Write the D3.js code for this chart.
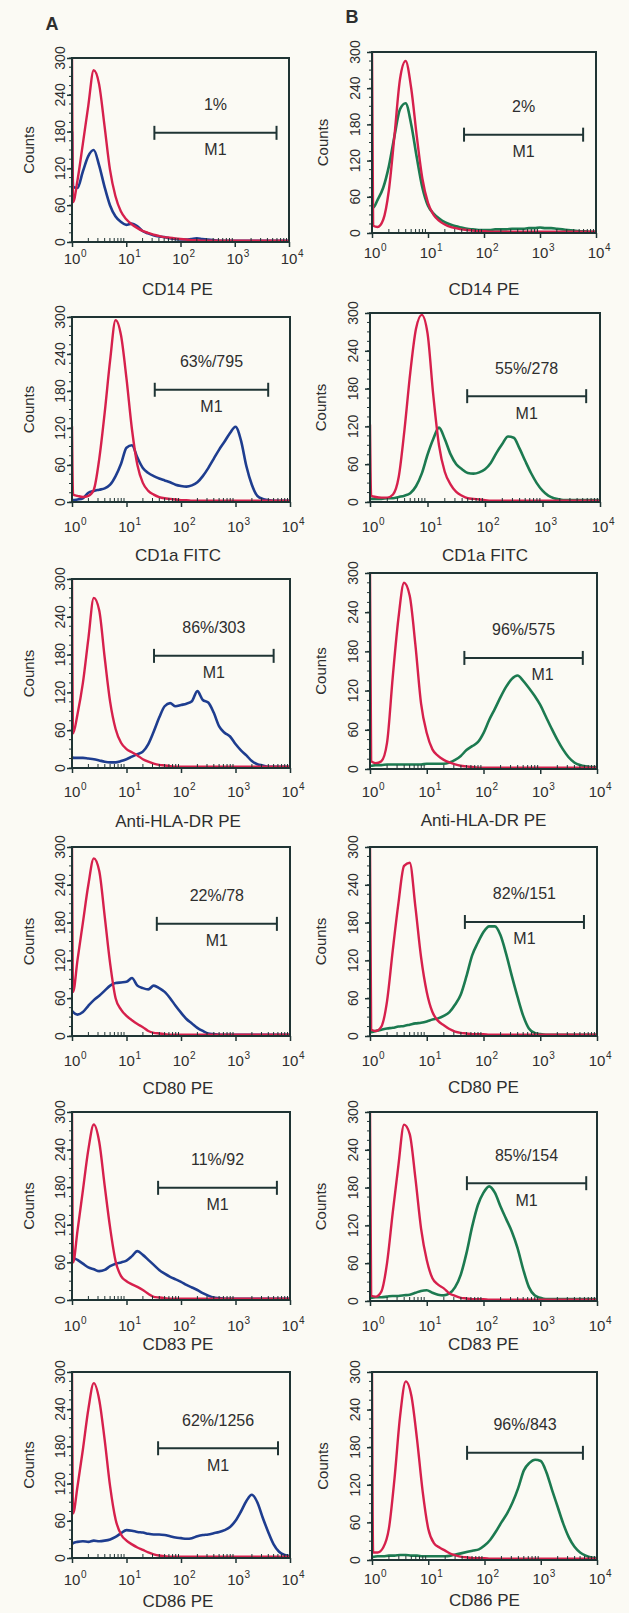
<!DOCTYPE html>
<html><head><meta charset="utf-8">
<script src="https://cdn.jsdelivr.net/npm/d3@7"></script>
<style>
html,body{margin:0;padding:0;background:#fbfaf4;}
svg{display:block;}
text{font-family:"Liberation Sans",Arial,Helvetica,sans-serif;fill:#2e2e2e;}
</style></head><body>
<svg id="chart" width="629" height="1613"></svg>
<script>
// ---------- data ----------
// channel positions (log10 of fluorescence)
const logGrid = [0, 0.02,
  0.1,0.2,0.3,0.4,0.5,0.6,0.7,0.8,0.9,1.0,
  1.1,1.2,1.3,1.4,1.5,1.6,1.7,1.8,1.9,2.0,
  2.1,2.2,2.3,2.4,2.5,2.6,2.7,2.8,2.9,3.0,
  3.1,3.2,3.3,3.4,3.5,3.6,3.7,3.8,3.9,4.0];

const panelLetters = ["A", "B"];
const markerNames = ["CD14 PE", "CD1a FITC", "Anti-HLA-DR PE", "CD80 PE", "CD83 PE", "CD86 PE"];
const gateLabels = ["1%", "2%", "63%/795", "55%/278", "86%/303", "96%/575",
                    "22%/78", "82%/151", "11%/92", "85%/154", "62%/1256", "96%/843"];
const gateNames  = ["M1","M1","M1","M1","M1","M1","M1","M1","M1","M1","M1",""];
const gateStarts = [33, 44, 33, 49, 32, 46, 36, 47, 38, 51, 38, 49];
const gateEnds   = [5890, 5890, 3980, 5750, 5010, 5620, 5750, 5890, 5750, 6460, 6030, 5620];
const gateLevels = [178, 163, 182, 168, 178, 170, 178, 181, 179, 187, 177, 171];
const yTickValues = [0, 60, 120, 180, 240, 300];
const xTickValues = [1, 10, 100, 1000, 10000];
const xTickExponents = ["0", "1", "2", "3", "4"];

// isotype control (red) and stained (blue = A, green = B) histograms
const redA1  = [300,65, 100,160,222,280,257,189,118,75,50,37, 29,23,18,15,12,10,8,7,6,5, 4,3,3,2,2,2,2,2,2,2, 2,2,2,2,2,2,2,2,2,2];
const blueA1 = [180,90, 88,115,140,150,125,90,60,42,33,28, 30,26,18,14,11,9,8,6,5,4, 4,5,6,5,4,3,2,2,2,2, 2,2,2,2,2,2,2,2,2,2];
const redB1  = [300,12, 10,22,70,160,255,285,240,160,90,50, 30,20,14,10,8,6,5,4,3,3, 2,2,2,2,2,2,2,2,2,2, 2,2,2,2,2,2,2,2,2,2];
const greenB1= [45,42, 55,75,110,160,205,215,180,125,75,45, 32,24,18,14,11,9,7,6,5,5, 5,6,6,6,7,7,7,8,8,9, 8,8,7,6,5,4,3,3,2,2];
const redA2  = [123,12, 10,8,10,20,70,145,230,295,270,200, 118,60,31,18,12,8,6,5,4,3, 3,2,2,2,2,2,2,2,2,2, 2,2,2,2,2,2,2,2,2,2];
const blueA2 = [3,3, 4,6,15,18,20,22,28,42,62,88, 92,72,55,47,42,38,35,32,28,26, 25,27,32,42,55,70,85,98,112,122, 100,58,28,10,5,3,2,2,2,2];
const redB2  = [123,10, 8,7,7,12,40,115,205,275,297,268, 170,90,48,28,16,10,6,5,4,3, 2,2,2,2,2,2,2,2,2,2, 2,2,2,2,2,2,2,2,2,2];
const greenB2= [5,5, 5,5,6,6,8,10,14,25,45,75, 100,118,100,76,60,52,46,45,47,52, 62,78,92,104,102,85,65,46,30,18, 10,6,4,3,3,3,3,3,3,3];
const redA3  = [300,55, 85,135,205,270,250,175,105,62,40,30, 25,20,14,10,7,5,4,3,2,2, 2,2,2,2,2,2,2,2,2,2, 2,2,2,2,2,2,2,2,2,2];
const blueA3 = [18,16, 16,16,15,14,12,10,9,9,11,14, 18,22,26,38,58,80,98,103,98,100, 102,106,122,108,104,88,66,56,50,38, 28,20,11,6,4,2,2,2,2,2];
const redB3  = [300,12, 9,12,40,140,230,285,265,190,100,55, 30,20,14,10,7,5,4,3,2,2, 2,2,2,2,2,2,2,2,2,2, 2,2,2,2,2,2,2,2,2,2];
const greenB3= [5,5, 6,6,7,7,7,7,7,7,7,8, 8,8,8,10,14,20,29,35,41,55, 75,92,110,126,138,143,135,124,112,98, 80,62,45,30,18,10,6,4,3,3];
const redA4  = [300,70, 120,180,240,282,262,190,115,60,42,32, 25,19,14,8,5,4,3,2,2,2, 2,2,2,2,2,2,2,2,2,2, 2,2,2,2,2,2,2,2,2,2];
const blueA4 = [40,38, 34,38,48,57,64,72,80,84,85,86, 92,80,76,74,80,76,70,60,48,37, 27,20,13,8,4,3,2,2,2,2, 2,2,2,2,2,2,2,2,2,2];
const redB4  = [300,10, 8,15,55,135,210,270,275,205,125,70, 38,24,17,11,7,5,4,3,3,3, 2,2,2,2,2,2,2,2,2,2, 2,2,2,2,2,2,2,2,2,2];
const greenB4= [6,6, 8,10,12,13,15,16,18,20,21,23, 26,28,32,38,50,66,95,128,148,165, 174,174,160,130,95,62,32,12,5,3, 2,2,2,2,2,2,2,2,2,2];
const redA5  = [300,60, 110,175,240,280,252,182,115,62,38,30, 25,21,16,10,5,4,3,2,2,2, 2,2,2,2,2,2,2,2,2,2, 2,2,2,2,2,2,2,2,2,2];
const blueA5 = [70,68, 64,58,52,49,46,48,54,58,60,63, 70,78,72,64,56,48,42,37,33,29, 24,20,16,11,7,4,3,2,2,2, 2,2,2,2,2,2,2,2,2,2];
const redB5  = [300,8, 7,15,60,140,215,280,265,195,115,65, 36,26,20,12,8,5,4,3,3,3, 2,2,2,2,2,2,2,2,2,2, 2,2,2,2,2,2,2,2,2,2];
const greenB5= [5,5, 6,6,7,8,8,9,10,13,16,17, 13,10,9,12,22,42,76,118,152,172, 182,172,150,130,110,84,50,22,9,5, 3,3,3,3,3,3,3,3,3,3];
const redA6  = [300,72, 115,175,240,282,255,190,115,62,38,28, 22,17,13,9,6,4,3,2,2,2, 2,2,2,2,2,2,2,2,2,2, 2,2,2,2,2,2,2,2,2,2];
const blueA6 = [22,24, 26,27,26,28,27,28,30,34,40,45, 44,42,41,39,38,38,37,35,33,32, 31,32,35,37,38,40,42,45,50,60, 75,92,102,90,65,42,22,10,5,3];
const redB6  = [300,12, 12,20,50,130,230,285,262,193,110,50, 27,20,15,10,7,5,4,3,3,3, 2,2,2,2,2,2,2,2,2,2, 2,2,2,2,2,2,2,2,2,2];
const greenB6= [5,5, 6,6,7,7,8,8,7,7,6,6, 6,6,6,7,9,11,13,15,17,23, 32,45,60,74,92,115,143,155,160,158, 140,112,85,58,36,21,12,7,4,3];

const redSeries   = [redA1, redB1, redA2, redB2, redA3, redB3, redA4, redB4, redA5, redB5, redA6, redB6];
const stainSeries = [blueA1, greenB1, blueA2, greenB2, blueA3, greenB3, blueA4, greenB4, blueA5, greenB5, blueA6, greenB6];

// ---------- layout (pixels) ----------
const boxes = [
  {l:72, r:289, t:58,   b:242,  tick:264,  title:295},
  {l:372,r:596, t:52,   b:233,  tick:258,  title:295},
  {l:72, r:290, t:317,  b:502,  tick:532,  title:561},
  {l:370,r:600, t:313,  b:502,  tick:532,  title:561},
  {l:72, r:290, t:579,  b:768,  tick:797,  title:827},
  {l:370,r:597, t:573,  b:769,  tick:797,  title:826},
  {l:72, r:290, t:847,  b:1036, tick:1066, title:1094},
  {l:370,r:597, t:847,  b:1036, tick:1066, title:1093},
  {l:72, r:290, t:1112, b:1300, tick:1331, title:1350},
  {l:370,r:597, t:1112, b:1301, tick:1331, title:1350},
  {l:72, r:290, t:1372, b:1558, tick:1585, title:1607},
  {l:372,r:597, t:1372, b:1560, tick:1584, title:1606}
];
const colors = {red:"#d6204c", blue:"#1e3d8f", green:"#1c7a50", frame:"#1f3434", text:"#2e2e2e"};

const svg = d3.select("#chart");
svg.append("rect").attr("width",629).attr("height",1613).attr("fill","#fbfaf4");

// panel letters
svg.append("text").attr("x",52).attr("y",30).attr("text-anchor","middle")
  .style("font-size","18px").style("font-weight","bold").text(panelLetters[0]);
svg.append("text").attr("x",352).attr("y",23).attr("text-anchor","middle")
  .style("font-size","18px").style("font-weight","bold").text(panelLetters[1]);

boxes.forEach((bx, i) => {
  const col = i % 2, row = Math.floor(i / 2);
  const g = svg.append("g");
  const x = d3.scaleLog().domain([1, 10000]).range([bx.l, bx.r]);
  const y = d3.scaleLinear().domain([0, 300]).range([bx.b, bx.t]);

  const clipId = "clip" + i;
  g.append("clipPath").attr("id", clipId).append("rect")
    .attr("x", bx.l).attr("y", bx.t - 1).attr("width", bx.r - bx.l).attr("height", bx.b - bx.t + 1);

  const line = d3.line()
    .x(d => x(Math.pow(10, d[0])))
    .y(d => y(Math.min(300, d[1])))
    .curve(d3.curveMonotoneX);

  const stainData = logGrid.map((lg, k) => [lg, stainSeries[i][k]]);
  const redData = logGrid.map((lg, k) => [lg, redSeries[i][k]]);
  const plot = g.append("g").attr("clip-path", `url(#${clipId})`);
  plot.append("path").datum(stainData).attr("d", line)
    .attr("fill","none").attr("stroke", col === 0 ? colors.blue : colors.green)
    .attr("stroke-width", 2.6).attr("stroke-linejoin","round");
  plot.append("path").datum(redData).attr("d", line)
    .attr("fill","none").attr("stroke", colors.red)
    .attr("stroke-width", 2.4).attr("stroke-linejoin","round");

  // frame
  g.append("rect").attr("x", bx.l).attr("y", bx.t).attr("width", bx.r - bx.l).attr("height", bx.b - bx.t)
    .attr("fill","none").attr("stroke", colors.frame).attr("stroke-width", 2);

  // y axis
  const yAxis = d3.axisLeft(y).tickValues(yTickValues).tickSize(5).tickFormat("");
  const ya = g.append("g").attr("transform", `translate(${bx.l},0)`).call(yAxis);
  ya.select(".domain").remove();
  ya.selectAll("line").attr("stroke", colors.frame).attr("stroke-width", 1.5);
  // minor y ticks
  const yMinor = d3.range(0, 301, 15);
  g.selectAll(null).data(yMinor).join("line")
    .attr("x1", bx.l - 3).attr("x2", bx.l)
    .attr("y1", d => y(d)).attr("y2", d => y(d))
    .attr("stroke", colors.frame).attr("stroke-width", 1);
  const yLabX = bx.l - (col === 0 ? 12 : 17);
  g.selectAll(null).data(yTickValues).join("text")
    .attr("transform", d => `translate(${yLabX},${y(d)}) rotate(-90)`)
    .attr("text-anchor","middle").attr("dominant-baseline","central")
    .style("font-size","14px").text(d => d);
  g.append("text")
    .attr("transform", `translate(${bx.l - (col === 0 ? 44 : 50)},${(bx.t + bx.b) / 2}) rotate(-90)`)
    .attr("text-anchor","middle").attr("dominant-baseline","central")
    .style("font-size","15px").text("Counts");

  // x axis
  const xAxis = d3.axisBottom(x).tickValues(xTickValues).tickSize(5).tickFormat("");
  const xa = g.append("g").attr("transform", `translate(0,${bx.b})`).call(xAxis);
  xa.select(".domain").remove();
  xa.selectAll("line").attr("stroke", colors.frame).attr("stroke-width", 1.5);
  const minor = [];
  for (let dec = 1; dec < 10000; dec *= 10) for (let m = 2; m < 10; m++) minor.push(dec * m);
  g.selectAll(null).data(minor).join("line")
    .attr("x1", d => x(d)).attr("x2", d => x(d))
    .attr("y1", bx.b).attr("y2", bx.b - 4)
    .attr("stroke", colors.frame).attr("stroke-width", 1);
  xTickValues.forEach((v, k) => {
    g.append("text").attr("x", x(v)).attr("y", bx.tick).attr("text-anchor","middle")
      .style("font-size","15px").text("10");
    g.append("text").attr("x", x(v) + 9).attr("y", bx.tick - 7).attr("text-anchor","start")
      .style("font-size","10px").text(xTickExponents[k]);
  });
  g.append("text").attr("x", (bx.l + bx.r) / 2 - (col === 0 ? 3 : 0)).attr("y", bx.title)
    .attr("text-anchor","middle").style("font-size","17px").text(markerNames[row]);

  // gate marker M1
  const gx1 = x(gateStarts[i]), gx2 = x(gateEnds[i]), gy = y(gateLevels[i]);
  const gateG = g.append("g").attr("stroke", colors.frame).attr("stroke-width", 2);
  gateG.append("line").attr("x1", gx1).attr("x2", gx2).attr("y1", gy).attr("y2", gy);
  gateG.append("line").attr("x1", gx1).attr("x2", gx1).attr("y1", gy - 7).attr("y2", gy + 7);
  gateG.append("line").attr("x1", gx2).attr("x2", gx2).attr("y1", gy - 7).attr("y2", gy + 7);
  const gcx = (gx1 + gx2) / 2;
  g.append("text").attr("x", gcx).attr("y", gy - 28).attr("text-anchor","middle")
    .attr("dominant-baseline","central").style("font-size","16px").text(gateLabels[i]);
  g.append("text").attr("x", gcx + (i === 5 ? 19 : 0)).attr("y", gy + 17).attr("text-anchor","middle")
    .attr("dominant-baseline","central").style("font-size","16px").text(gateNames[i]);
});
</script>
</body></html>
